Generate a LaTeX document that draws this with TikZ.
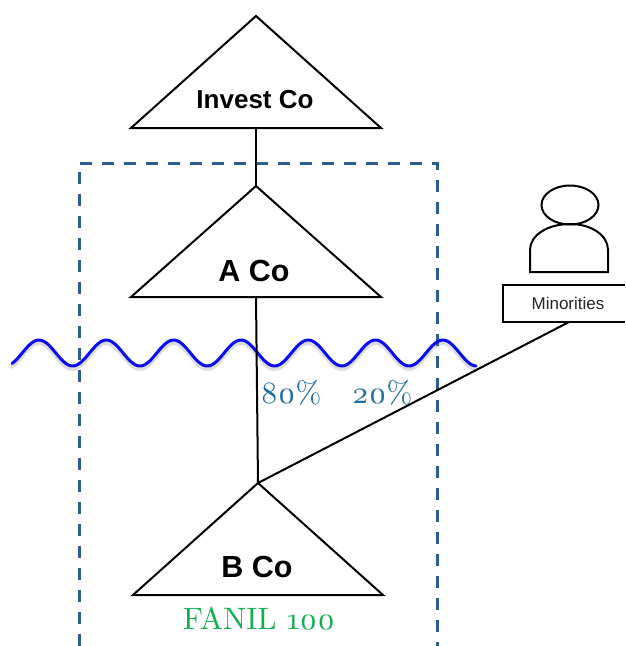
\documentclass[tikz,border=0pt]{standalone}
\usepackage{fontspec}
\setsansfont{Liberation Sans}
\newfontfamily\oldser[Extension=.otf,Numbers=OldStyle]{lmroman10-regular}
\definecolor{dashblue}{HTML}{2F5D93}
\definecolor{waveblue}{HTML}{0A0AF5}
\definecolor{pctblue}{HTML}{1F6E9F}
\definecolor{fanil}{HTML}{12AE50}
\tikzset{
  line/.style={draw=black,line width=2pt,line join=miter},
  cotext/.style={font=\sffamily\bfseries\fontsize{30.5}{32}\selectfont,inner sep=0pt,anchor=center},
  pct/.style={font=\oldser\fontsize{31}{33}\selectfont,text=pctblue,inner sep=0pt,anchor=center},
}
\begin{document}
\begin{tikzpicture}[x=1pt,y=-1pt]
\useasboundingbox (0,0) rectangle (625,646);
% named anchors
\coordinate (investapex) at (256,16);
\coordinate (investbase) at (256,128);
\coordinate (aapex) at (256,186);
\coordinate (abase) at (256,297);
\coordinate (bapex) at (258,483);
\coordinate (minconn) at (569,322);
% dashed frame
\draw[dashblue,line width=3pt,dash pattern=on 12pt off 10pt] (79,646) -- (79,163) -- (437,163) -- (437,646);
% wave with soft shadow
\foreach \o/\w in {0.10/5,0.16/3.5}{
\draw[black!55,opacity=\o,line width=\w pt,line cap=round] plot[domain=12:476,samples=200] (\x,{356-13*cos((\x-39)/67.3*360)});
}
\draw[waveblue,line width=3pt,line cap=round,line join=round] plot[domain=12:476,samples=200] (\x,{353-13*cos((\x-39)/67.3*360)});
% connectors
\draw[line] (investbase) -- (aapex);
\draw[line] (abase) -- (bapex);
\draw[line] (bapex) -- (minconn);
% triangles
\draw[line] (investapex) -- (381,128) -- (131,128) -- cycle;
\draw[line] (aapex) -- (381,297) -- (131,297) -- cycle;
\draw[line] (bapex) -- (383,595) -- (133,595) -- cycle;
% labels
\node[cotext,font=\sffamily\bfseries\fontsize{26}{28}\selectfont] (invest) at (255,100) {Invest Co};
\node[cotext] (aco) at (254,271) {A Co};
\node[cotext] (bco) at (257,567) {B Co};
\node[pct] (p80) at (291,393) {80\%};
\node[pct] (p20) at (382,393) {20\%};
\node[pct,text=fanil] (fan) at (259,619) {FANIL 100};
% person
\draw[line] (570,205) ellipse (28.5pt and 19.5pt);
\draw[line] (530,272) -- (530,250) .. controls (530,235) and (548,224) .. (570,224) .. controls (591,224) and (608,235) .. (608,250) -- (608,272) -- cycle;
% minorities box
\draw[line] (625,285) -- (503,285) -- (503,322) -- (625,322);
\node[font=\sffamily\fontsize{17}{19}\selectfont,text=black!85,inner sep=0pt] (min) at (568,303) {Minorities};
\end{tikzpicture}
\end{document}
